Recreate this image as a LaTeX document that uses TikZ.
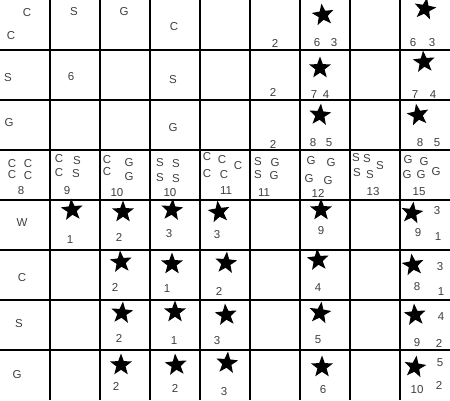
\documentclass[tikz,border=0pt]{standalone}
\usepackage{fontspec}
\setmainfont{Liberation Sans}
\usetikzlibrary{shapes.geometric}
\definecolor{txtgray}{RGB}{64,64,64}
\begin{document}
\begin{tikzpicture}[x=1pt,y=-1pt,
  gridline/.style={line width=2.8pt,black},
  lbl/.style={font=\fontsize{11.5}{11.5}\selectfont,text=txtgray,inner sep=0pt},
  starmark/.style={star,star points=5,star point ratio=2.4,fill=black,draw=none,minimum size=23pt,inner sep=0pt}]
\useasboundingbox (0,0) rectangle (450,400);
\fill[white] (0,0) rectangle (450,400);
\foreach \k in {50,100,...,400} \draw[gridline] (\k,0) -- (\k,400);
\foreach \k in {50,100,...,350} \draw[gridline] (0,\k) -- (450,\k);
% stars
\foreach \x/\y/\r [count=\i] in {
  323/15/8, 425/9/-10, 320/68/0, 424/62/5, 320/115/-5, 418/115/10,
  72/210/5, 123/212/0, 172/210/-5, 219/212/8, 321/210/0, 412/213/-8,
  121/262/5, 172/264/0, 226/263/-5, 318/260/5, 413/265/8,
  122/313/-5, 175/312/0, 226/315/5, 320/313/-8, 415/315/5,
  121/365/0, 176/365/5, 227/363/-5, 322/367/0, 415/367/-8}
  \node[starmark,rotate=\r,name=s\i] at (\x,\y) {};
% labels
\foreach \x/\y/\t [count=\i] in {
  27/13/C, 11/36/C, 74/12/S, 124/12/G, 174/27/C, 275/43/2, 317/43/6, 334/43/3, 413/43/6, 432/43/3,
  8/78/S, 71/77/6, 173/80/S, 273/92/2, 314/95/7, 326/95/4, 415/95/7, 433/95/4,
  9/123/G, 173/128/G, 273/144/2, 313/143/8, 329/143/5, 420/143/8, 437/143/5,
  12/164/C, 28/164/C, 12/175/C, 28/176/C, 21/191/8,
  59/159/C, 77/161/S, 59/173/C, 76/174/S, 67/191/9,
  107/160/C, 129/163/G, 107/172/C, 129/177/G, 117/193/10,
  160/163/S, 176/164/S, 160/178/S, 176/179/S, 170/193/10,
  207/157/C, 222/160/C, 238/166/C, 207/174/C, 224/175/C, 226/191/11,
  258/162/S, 275/163/G, 258/175/S, 274/176/G, 264/193/11,
  311/161/G, 331/163/G, 309/179/G, 328/181/G, 318/193/12,
  356/158/S, 367/159/S, 380/166/S, 357/173/S, 370/175/S, 373/192/13,
  408/160/G, 424/162/G, 407/175/G, 421/175/G, 436/172/G, 419/192/15,
  22/223/W, 70/240/1, 119/237/2, 169/234/3, 217/235/3, 321/231/9, 437/211/3, 418/233/9, 438/237/1,
  22/278/C, 115/287/2, 167/289/1, 219/291/2, 318/288/4, 440/267/3, 417/287/8, 441/292/1,
  19/324/S, 119/338/2, 174/341/1, 217/341/3, 318/340/5, 441/317/4, 417/343/9, 439/343/2,
  17/375/G, 116/386/2, 175/388/2, 224/392/3, 323/390/6, 440/363/5, 417/390/10, 439/385/2}
  \node[lbl,name=t\i] at (\x,\y) {\t};
\end{tikzpicture}
\end{document}
